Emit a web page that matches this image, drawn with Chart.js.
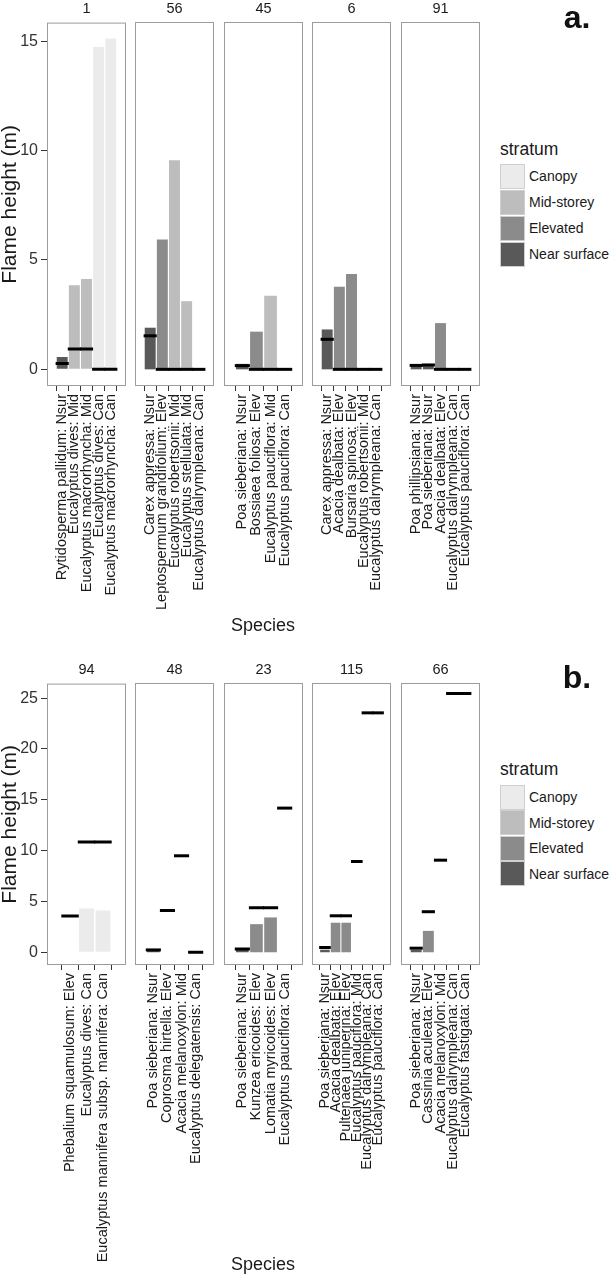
<!DOCTYPE html>
<html>
<head>
<meta charset="utf-8">
<script src="https://cdn.jsdelivr.net/npm/chart.js@4.4.0/dist/chart.umd.min.js"></script>
<style>
  body { margin: 0; background: #fff; font-family: "Liberation Sans", Arial, sans-serif; }
  #page { position: relative; width: 613px; height: 1275px; overflow: hidden; background: #fff; }
  canvas { position: absolute; }
  .txt { position: absolute; white-space: nowrap; color: #1a1a1a; line-height: 1; }
  .key { position: absolute; width: 23px; height: 23px; border: 1px solid #cfcfcf; }
</style>
</head>
<body>
<div id="page"></div>
<script>
// strata (legend order) and short codes used in the species labels
const stratumNames = ['Canopy', 'Mid-storey', 'Elevated', 'Near surface'];
const stratumCodes = ['Can', 'Mid', 'Elev', 'Nsur'];

// --- panel a ---
const stripsA = ['1', '56', '45', '6', '91'];
const speciesA = [
  ['Rytidosperma pallidum: Nsur', 'Eucalyptus dives: Mid', 'Eucalyptus macrorhyncha: Mid', 'Eucalyptus dives: Can', 'Eucalyptus macrorhyncha: Can'],
  ['Carex appressa: Nsur', 'Leptospermum grandifolium: Elev', 'Eucalyptus robertsonii: Mid', 'Eucalyptus stellulata: Mid', 'Eucalyptus dalrympleana: Can'],
  ['Poa sieberiana: Nsur', 'Bossiaea foliosa: Elev', 'Eucalyptus pauciflora: Mid', 'Eucalyptus pauciflora: Can'],
  ['Carex appressa: Nsur', 'Acacia dealbata: Elev', 'Bursaria spinosa: Elev', 'Eucalyptus robertsonii: Mid', 'Eucalyptus dalrympleana: Can'],
  ['Poa phillipsiana: Nsur', 'Poa sieberiana: Nsur', 'Acacia dealbata: Elev', 'Eucalyptus dalrympleana: Can', 'Eucalyptus pauciflora: Can']
];
const barsA = [
  [0.57, 3.84, 4.13, 14.73, 15.12],
  [1.9, 5.93, 9.54, 3.11, 0],
  [0.25, 1.72, 3.36, 0],
  [1.82, 3.77, 4.35, 0, 0],
  [0.2, 0.22, 2.11, 0, 0]
];
const linesA = [
  [0.27, 0.93, 0.93, 0, 0],
  [1.53, 0, 0, 0, 0],
  [0.17, 0, 0, 0],
  [1.37, 0, 0, 0, 0],
  [0.18, 0.2, 0, 0, 0]
];
const ticksA = [0, 5, 10, 15];

// --- panel b ---
const stripsB = ['94', '48', '23', '115', '66'];
const speciesB = [
  ['Phebalium squamulosum: Elev', 'Eucalyptus dives: Can', 'Eucalyptus mannifera subsp. mannifera: Can'],
  ['Poa sieberiana: Nsur', 'Coprosma hirtella: Elev', 'Acacia melanoxylon: Mid', 'Eucalyptus delegatensis: Can'],
  ['Poa sieberiana: Nsur', 'Kunzea ericoides: Elev', 'Lomatia myricoides: Elev', 'Eucalyptus pauciflora: Can'],
  ['Poa sieberiana: Nsur', 'Acacia dealbata: Elev', 'Pultenaea juniperina: Elev', 'Eucalyptus pauciflora: Mid', 'Eucalyptus dalrympleana: Can', 'Eucalyptus pauciflora: Can'],
  ['Poa sieberiana: Nsur', 'Cassinia aculeata: Elev', 'Acacia melanoxylon: Mid', 'Eucalyptus dalrympleana: Can', 'Eucalyptus fastigata: Can']
];
const barsB = [
  [0, 4.3, 4.1],
  [0.2, 0, 0, 0],
  [0.22, 2.76, 3.42, 0],
  [0.25, 2.9, 2.9, 0, 0, 0],
  [0.25, 2.1, 0, 0, 0]
];
const linesB = [
  [3.58, 10.86, 10.86],
  [0.23, 4.1, 9.47, 0],
  [0.32, 4.37, 4.37, 14.15],
  [0.47, 3.58, 3.58, 8.91, 23.5, 23.5],
  [0.4, 3.98, 9.04, 25.4, 25.4]
];
const ticksB = [0, 5, 10, 15, 20, 25];

// styles
const FONT = '"Liberation Sans", Arial, sans-serif';
Chart.defaults.font.family = FONT;
const fillFor = { Can: '#ebebeb', Mid: '#bdbdbd', Elev: '#8b8b8b', Nsur: '#595959' };
const facetLefts = [47, 135, 224, 312, 401];
const PLOT_W = 79, PAD_T = 12, PAD_R = 20, Y_W = 47;

const page = document.getElementById('page');

function text(str, x, y, css, anchorLeft) {
  const d = document.createElement('div');
  d.className = 'txt';
  d.textContent = str;
  d.style.left = x + 'px';
  d.style.top = y + 'px';
  d.style.transform = anchorLeft ? 'translate(0,-50%)' : 'translate(-50%,-50%)';
  Object.assign(d.style, css || {});
  page.appendChild(d);
}

// grey box round each facet
const panelBox = {
  id: 'panelBox',
  afterDraw(chart) {
    const { ctx, chartArea: a } = chart;
    ctx.save();
    ctx.strokeStyle = '#9c9c9c';
    ctx.lineWidth = 1;
    ctx.strokeRect(a.left + 0.5, a.top + 0.5, a.right - a.left - 1, a.bottom - a.top - 1);
    ctx.restore();
  }
};

// half a category wide, a bit more so neighbouring segments join up
function halfUnit(chart) {
  const s = chart.scales.x;
  return Math.abs(s.getPixelForValue(1) - s.getPixelForValue(0)) / 2 + 0.5;
}

function facet(cfg) {
  const n = cfg.labels.length;
  const cv = document.createElement('canvas');
  const w = (cfg.showY ? Y_W : 0) + PLOT_W + PAD_R;
  const h = PAD_T + cfg.plotH + cfg.axisH;
  cv.width = w; cv.height = h;
  cv.style.left = (cfg.left - (cfg.showY ? Y_W : 0)) + 'px';
  cv.style.top = (cfg.top - PAD_T) + 'px';
  page.appendChild(cv);

  new Chart(cv, {
    type: 'bar',
    data: {
      datasets: [
        {
          type: 'scatter',
          order: 0,
          data: cfg.lines.map((v, i) => ({ x: i + 1, y: v })),
          showLine: false,
          pointStyle: 'line',
          pointRadius: ctx => halfUnit(ctx.chart),
          pointHoverRadius: ctx => halfUnit(ctx.chart),
          pointBorderWidth: 3,
          pointHoverBorderWidth: 3,
          pointBorderColor: '#000',
          pointBackgroundColor: '#000'
        },
        {
          type: 'bar',
          order: 1,
          data: cfg.bars.map((v, i) => ({ x: i + 1, y: v })),
          backgroundColor: cfg.labels.map(l => fillFor[l.split(': ').pop()]),
          borderWidth: 0,
          categoryPercentage: 1,
          barPercentage: 0.9
        }
      ]
    },
    options: {
      responsive: false,
      animation: false,
      events: [],
      layout: { padding: { top: PAD_T, right: PAD_R, left: 0, bottom: 0 } },
      plugins: { legend: { display: false }, tooltip: { enabled: false } },
      scales: {
        x: {
          type: 'linear',
          min: 0.4,
          max: n + 0.6,
          afterBuildTicks: ax => { ax.ticks = cfg.labels.map((_, i) => ({ value: i + 1 })); },
          afterFit: ax => { ax.height = cfg.axisH; },
          grid: { drawOnChartArea: false, drawTicks: true, tickLength: 5, color: '#333' },
          border: { display: false },
          ticks: {
            autoSkip: false, minRotation: 90, maxRotation: 90, padding: 3,
            color: '#1a1a1a', font: { size: 14.5 },
            callback: v => cfg.labels[Math.round(v) - 1]
          }
        },
        y: {
          display: cfg.showY,
          min: cfg.yMin,
          max: cfg.yMax,
          afterBuildTicks: ax => { ax.ticks = cfg.yTicks.map(v => ({ value: v })); },
          afterFit: ax => { ax.width = cfg.showY ? Y_W : 0; },
          grid: { drawOnChartArea: false, drawTicks: true, tickLength: 6, color: '#333' },
          border: { display: false },
          ticks: { padding: 3, color: '#333', font: { size: 16 } },
          title: {
            display: true, text: 'Flame height (m)', color: '#1a1a1a',
            font: { size: 21, lineHeight: 1 }, padding: { top: 0, bottom: 0 }
          }
        }
      }
    },
    plugins: [panelBox]
  });
}

function legend(x, titleY, keyCenters) {
  text('stratum', x, titleY, { fontSize: '17.5px' }, true);
  stratumNames.forEach((name, i) => {
    const k = document.createElement('div');
    k.className = 'key';
    k.style.left = x + 'px';
    k.style.top = (keyCenters[i] - 12.5) + 'px';
    k.style.background = fillFor[stratumCodes[i]];
    page.appendChild(k);
    text(name, x + 29, keyCenters[i], { fontSize: '14px' }, true);
  });
}

function panel(p) {
  p.species.forEach((labels, i) => {
    facet({
      left: facetLefts[i], top: p.top, plotH: p.plotH, axisH: p.axisH,
      labels, bars: p.bars[i], lines: p.lines[i],
      yMin: p.yMin, yMax: p.yMax, yTicks: p.yTicks, showY: i === 0
    });
    text(p.strips[i], facetLefts[i] + PLOT_W / 2, p.stripY, { fontSize: '14.5px' });
  });
  text('Species', 263, p.speciesY, { fontSize: '18px' });
  text(p.letter, 577, p.letterY, { fontSize: '32px', fontWeight: 'bold', color: '#111' });
  legend(500, p.legendY, p.keys);
}

panel({
  species: speciesA, bars: barsA, lines: linesA, strips: stripsA, yTicks: ticksA,
  top: 22, plotH: 364, axisH: 240, yMin: -0.76, yMax: 15.85,
  stripY: 8, speciesY: 625, letter: 'a.', letterY: 17,
  legendY: 150, keys: [176, 202, 228, 254]
});

panel({
  species: speciesB, bars: barsB, lines: linesB, strips: stripsB, yTicks: ticksB,
  top: 683, plotH: 282, axisH: 300, yMin: -1.25, yMax: 26.43,
  stripY: 669, speciesY: 1264, letter: 'b.', letterY: 677,
  legendY: 770, keys: [797, 822.5, 848, 873.5]
});
</script>
</body>
</html>
